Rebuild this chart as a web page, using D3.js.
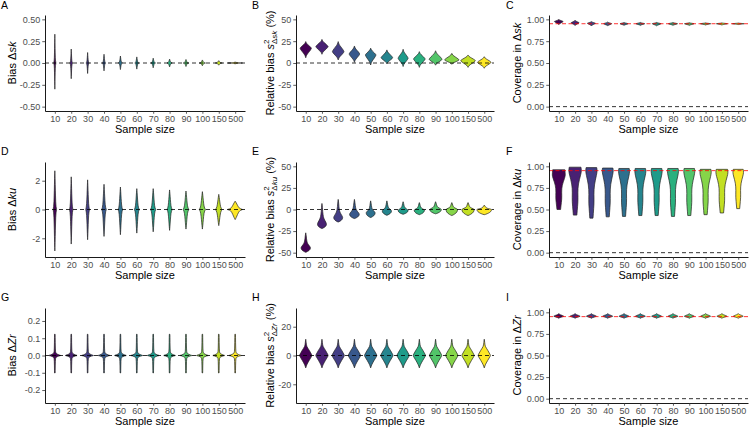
<!DOCTYPE html>
<html><head><meta charset="utf-8">
<script src="https://cdn.jsdelivr.net/npm/d3@7"></script>
<style>
body{margin:0;background:#fff}
text{font-family:"Liberation Sans",Arial,sans-serif}
</style>
</head><body>
<svg id="chart" width="750" height="429"></svg>
<script>
// ---------------- DATA ----------------
const sampleSizes = ["10","20","30","40","50","60","70","80","90","100","150","500"];

// A: Bias Δsk (violin lower end, mode, upper end, relative peak density)
const biasSkLo   = [-0.30,-0.18,-0.12,-0.09,-0.075,-0.07,-0.055,-0.045,-0.04,-0.032,-0.025,-0.009];
const biasSkMid  = [0,0,0,0,0,0,0,0,0,0,0,0];
const biasSkHi   = [0.33,0.16,0.12,0.10,0.08,0.07,0.055,0.045,0.04,0.035,0.027,0.01];
const biasSkDens = [0.14,0.18,0.20,0.23,0.27,0.27,0.31,0.35,0.38,0.41,0.48,1.0];

// B: Relative bias of s² Δsk (%)
const relSkLo   = [6,10,3.5,0.8,-2.3,-1,-4,-5,-2.5,-1.5,-5,-6];
const relSkMid  = [16.9,18.8,13,10.3,9.2,6,5.4,4.6,4.2,3.5,2.7,0.8];
const relSkHi   = [24.5,27,24.5,19.5,17,15,15.7,13,14,11,9.2,7.2];
const relSkDens = [0.77,0.84,0.79,0.72,0.72,0.79,0.68,0.79,0.88,0.99,1.0,0.93];

// C: Coverage in Δsk
const covSkLo   = [0.94,0.93,0.925,0.925,0.93,0.93,0.925,0.93,0.93,0.935,0.935,0.94];
const covSkMid  = [0.975,0.96,0.955,0.95,0.95,0.95,0.95,0.95,0.95,0.95,0.95,0.95];
const covSkHi   = [1.0,0.99,0.975,0.97,0.965,0.965,0.965,0.965,0.962,0.96,0.96,0.958];
const covSkDens = [0.6,0.55,0.55,0.55,0.55,0.6,0.6,0.62,0.65,0.7,0.75,0.8];

// D: Bias Δku
const biasKuLo   = [-2.88,-2.4,-2.1,-1.87,-1.75,-1.64,-1.55,-1.45,-1.36,-1.36,-1.12,-0.7];
const biasKuMid  = [0,0,0,0,0,0,0,0,0,0,0,0];
const biasKuHi   = [2.69,2.27,2.06,1.75,1.56,1.45,1.45,1.36,1.28,1.24,1.05,0.58];
const biasKuDens = [0.22,0.22,0.25,0.30,0.30,0.32,0.34,0.34,0.38,0.41,0.45,1.0];

// E: Relative bias of s² Δku (%)
const relKuLo   = [-49.5,-22,-14.5,-10.5,-9.3,-6.7,-5.5,-6,-5,-7,-7,-6];
const relKuMid  = [-44.4,-17,-9.3,-5.5,-3.9,-1.6,-1,-0.8,0,0,0,0];
const relKuHi   = [-27,7,11.7,11.7,10,10,9,8,9,8,8,5];
const relKuDens = [0.64,0.61,0.61,0.66,0.61,0.63,0.68,0.70,0.79,0.79,0.84,1.0];

// F: Coverage in Δku
const covKuLo   = [0.50,0.435,0.40,0.415,0.42,0.43,0.43,0.42,0.43,0.44,0.46,0.51];
const covKuMid  = [0.90,0.95,0.95,0.95,0.94,0.94,0.94,0.94,0.94,0.93,0.93,0.93];
const covKuHi   = [0.96,0.99,0.985,0.98,0.975,0.975,0.975,0.975,0.975,0.965,0.965,0.965];
const covKuDens = [0.88,0.85,0.77,0.75,0.75,0.75,0.75,0.75,0.75,0.77,0.82,0.72];

// G: Bias ΔZr
const biasZrLo   = [-0.101,-0.101,-0.101,-0.101,-0.101,-0.101,-0.101,-0.101,-0.101,-0.101,-0.101,-0.101];
const biasZrMid  = [0,0,0,0,0,0,0,0,0,0,0,0];
const biasZrHi   = [0.123,0.123,0.123,0.123,0.123,0.123,0.123,0.123,0.123,0.123,0.123,0.123];
const biasZrDens = [0.79,0.79,0.79,0.79,0.79,0.79,0.79,0.79,0.79,0.79,0.80,0.82];

// H: Relative bias of s² ΔZr (%)
const relZrLo   = [-8.6,-8.6,-8.6,-8.6,-8.6,-8.6,-8.6,-8.6,-8.6,-8.6,-8.6,-8.6];
const relZrMid  = [0,0,0,0,0,0,0,0,0,0,0,0];
const relZrHi   = [11.3,11.3,11.3,11.3,11.3,11.3,11.3,11.3,11.3,11.3,11.3,11.3];
const relZrDens = [0.84,0.84,0.84,0.84,0.84,0.84,0.84,0.84,0.84,0.84,0.84,0.84];

// I: Coverage in ΔZr
const covZrLo   = [0.93,0.93,0.93,0.93,0.93,0.93,0.93,0.93,0.93,0.93,0.93,0.93];
const covZrMid  = [0.955,0.955,0.955,0.955,0.955,0.955,0.955,0.955,0.955,0.955,0.955,0.955];
const covZrHi   = [0.985,0.985,0.985,0.985,0.985,0.985,0.985,0.985,0.985,0.985,0.985,0.985];
const covZrDens = [0.68,0.68,0.68,0.68,0.68,0.68,0.68,0.68,0.68,0.68,0.68,0.68];

// Density shape profiles: [fraction of distance from mode to end, relative density]
const shapeNeedle  = [[0,1],[0.1,0.6],[0.2,0.45],[0.35,0.33],[0.5,0.24],[0.7,0.14],[0.85,0.07],[1,0]];
const shapeDiamond = [[0,1],[0.15,0.88],[0.3,0.7],[0.45,0.5],[0.6,0.3],[0.75,0.14],[0.9,0.05],[1,0]];
const shapeSpindle = [[0,1],[0.08,0.75],[0.2,0.55],[0.35,0.42],[0.5,0.32],[0.65,0.23],[0.8,0.14],[0.92,0.06],[1,0]];
const shapeBulb    = [[0,1],[0.2,0.97],[0.4,0.88],[0.6,0.7],[0.8,0.42],[0.92,0.2],[1,0]];
const shapeTail    = [[0,1],[0.1,0.85],[0.2,0.6],[0.3,0.4],[0.45,0.25],[0.6,0.17],[0.8,0.1],[1,0]];
const shapeCovTop  = [[0,1],[0.5,0.98],[1,0.94]];
const shapeCovLow  = [[0,1],[0.1,0.88],[0.2,0.7],[0.3,0.55],[0.4,0.47],[0.5,0.45],[0.6,0.46],[0.7,0.45],[0.8,0.4],[0.9,0.34],[1,0.28]];
const shapeCross   = [[0,1],[0.03,0.7],[0.07,0.4],[0.12,0.2],[0.2,0.12],[0.35,0.09],[0.6,0.07],[0.85,0.06],[1,0.05]];
const shapeDiaUp   = [[0,1],[0.15,0.82],[0.3,0.6],[0.45,0.35],[0.55,0.2],[0.65,0.12],[0.8,0.07],[1,0]];
const shapeDiaLow  = [[0,1],[0.2,0.8],[0.4,0.56],[0.6,0.33],[0.75,0.18],[0.85,0.1],[1,0]];

// Tick values
const ticksBiasSk = [-0.5,-0.25,0,0.25,0.5];
const ticksRel50  = [-50,-25,0,25,50];
const ticksCov    = [0,0.25,0.5,0.75,1];
const ticksBiasKu = [-2,0,2];
const ticksBiasZr = [-0.2,-0.1,0,0.1,0.2];
const ticksRel20  = [-20,0,20];

// ---------------- LAYOUT ----------------
const colX = [[45,245],[296,494],[549,748]];
const rowY = [[15,111],[162,257],[308,403]];
const titleX = [12,270,517];
const letterX = [1,252,506];
const letterY = [8.8,155,301];

const f2 = d => d.toFixed(2), f1 = d => d.toFixed(1), f0 = d => String(d);

const panels = [
  {id:"A",r:0,c:0,lo:biasSkLo,mid:biasSkMid,hi:biasSkHi,dens:biasSkDens,low:shapeNeedle,up:shapeNeedle,dom:[-0.55,0.55],ticks:ticksBiasSk,fmt:f2,kind:"bias",v:"sk"},
  {id:"B",r:0,c:1,lo:relSkLo,mid:relSkMid,hi:relSkHi,dens:relSkDens,low:shapeDiamond,up:shapeDiamond,dom:[-55,55],ticks:ticksRel50,fmt:f0,kind:"rel",v:"sk"},
  {id:"C",r:0,c:2,lo:covSkLo,mid:covSkMid,hi:covSkHi,dens:covSkDens,low:shapeDiamond,up:shapeDiamond,dom:[-0.05,1.05],ticks:ticksCov,fmt:f2,kind:"cov",v:"sk"},
  {id:"D",r:1,c:0,lo:biasKuLo,mid:biasKuMid,hi:biasKuHi,dens:biasKuDens,low:shapeSpindle,up:shapeSpindle,dom:[-3.3,3.3],ticks:ticksBiasKu,fmt:f0,kind:"bias",v:"ku"},
  {id:"E",r:1,c:1,lo:relKuLo,mid:relKuMid,hi:relKuHi,dens:relKuDens,low:shapeBulb,up:shapeTail,dom:[-55,55],ticks:ticksRel50,fmt:f0,kind:"rel",v:"ku"},
  {id:"F",r:1,c:2,lo:covKuLo,mid:covKuMid,hi:covKuHi,dens:covKuDens,low:shapeCovLow,up:shapeCovTop,dom:[-0.05,1.05],ticks:ticksCov,fmt:f2,kind:"cov",v:"ku"},
  {id:"G",r:2,c:0,lo:biasZrLo,mid:biasZrMid,hi:biasZrHi,dens:biasZrDens,low:shapeCross,up:shapeCross,dom:[-0.275,0.275],ticks:ticksBiasZr,fmt:f1,kind:"bias",v:"Zr"},
  {id:"H",r:2,c:1,lo:relZrLo,mid:relZrMid,hi:relZrHi,dens:relZrDens,low:shapeDiaLow,up:shapeDiaUp,dom:[-33,33],ticks:ticksRel20,fmt:f0,kind:"rel",v:"Zr"},
  {id:"I",r:2,c:2,lo:covZrLo,mid:covZrMid,hi:covZrHi,dens:covZrDens,low:shapeDiamond,up:shapeDiamond,dom:[-0.05,1.05],ticks:ticksCov,fmt:f2,kind:"cov",v:"Zr"}
];

const color = i => d3.interpolateViridis(i / (sampleSizes.length - 1));
const svg = d3.select("#chart");

panels.forEach(p => {
  const [x0,x1] = colX[p.c], [yT,yB] = rowY[p.r];
  const x = d3.scalePoint().domain(sampleSizes).range([x0,x1]).padding(0.6);
  const y = d3.scaleLinear().domain(p.dom).range([yB,yT]);
  const maxHalf = 0.45 * x.step();
  const g = svg.append("g");

  // violins
  sampleSizes.forEach((s,i) => {
    const lo = p.lo[i], mid = p.mid[i], hi = p.hi[i], dn = p.dens[i];
    const pts = [];
    for (let k = p.up.length - 1; k >= 0; k--) {
      const [f,w] = p.up[k];
      pts.push({v: mid + f*(hi-mid), w: w*dn});
    }
    for (let k = 1; k < p.low.length; k++) {
      const [f,w] = p.low[k];
      pts.push({v: mid - f*(mid-lo), w: w*dn});
    }
    const cx = x(s);
    const area = d3.area()
      .y(d => y(d.v))
      .x0(d => cx - d.w*maxHalf)
      .x1(d => cx + d.w*maxHalf)
      .curve(d3.curveMonotoneY);
    g.append("path").attr("d", area(pts))
      .attr("fill", color(i)).attr("stroke","#222").attr("stroke-width",0.7);
  });

  // reference lines
  g.append("line").attr("x1",x0).attr("x2",x1).attr("y1",y(0)).attr("y2",y(0))
    .attr("stroke","#000").attr("stroke-width",0.8).attr("stroke-dasharray","4,3");
  if (p.kind === "cov") {
    g.append("line").attr("x1",x0).attr("x2",x1).attr("y1",y(0.95)).attr("y2",y(0.95))
      .attr("stroke","#ff0000").attr("stroke-width",0.8).attr("stroke-dasharray","4,2.5");
  }

  // axes
  const ya = g.append("g").attr("transform",`translate(${x0},0)`)
    .call(d3.axisLeft(y).tickValues(p.ticks).tickFormat(p.fmt).tickSize(2.75).tickSizeOuter(0).tickPadding(2));
  const xa = g.append("g").attr("transform",`translate(0,${yB})`)
    .call(d3.axisBottom(x).tickSize(2.75).tickSizeOuter(0).tickPadding(1.5));
  [ya,xa].forEach(a => {
    a.attr("font-size",null).attr("font-family",null);
    a.select(".domain").attr("stroke","#000").attr("stroke-width",0.9);
    a.selectAll(".tick line").attr("stroke","#333").attr("stroke-width",0.8);
    a.selectAll(".tick text").attr("fill","#4d4d4d").style("font-size","9px");
  });

  // x title
  g.append("text").attr("x",(x0+x1)/2).attr("y",yB+22).attr("text-anchor","middle")
    .style("font-size","11px").attr("fill","#000").text("Sample size");

  // y title
  const t = g.append("text")
    .attr("transform",`translate(${titleX[p.c]},${(yT+yB)/2}) rotate(-90)`)
    .attr("text-anchor","middle").attr("dy","0.35em")
    .style("font-size","11px").attr("fill","#000");
  if (p.kind === "bias") {
    t.append("tspan").text("Bias \u0394");
    t.append("tspan").attr("font-style","italic").text(p.v);
  } else if (p.kind === "cov") {
    t.append("tspan").text("Coverage in \u0394");
    t.append("tspan").attr("font-style","italic").text(p.v);
  } else {
    t.append("tspan").text("Relative bias ");
    t.append("tspan").attr("font-style","italic").text("s");
    t.append("tspan").attr("dy",-4.5).style("font-size","8px").text("2");
    t.append("tspan").attr("dx",-4.4).attr("dy",7.5).style("font-size","8px").text("\u0394");
    t.append("tspan").attr("font-style","italic").style("font-size","8px").text(p.v);
    t.append("tspan").attr("dy",-3).text(" (%)");
  }

  // panel letter
  svg.append("text").attr("x",letterX[p.c]).attr("y",letterY[p.r])
    .style("font-size","10.5px").attr("fill","#000").text(p.id);
});
</script>
</body></html>
